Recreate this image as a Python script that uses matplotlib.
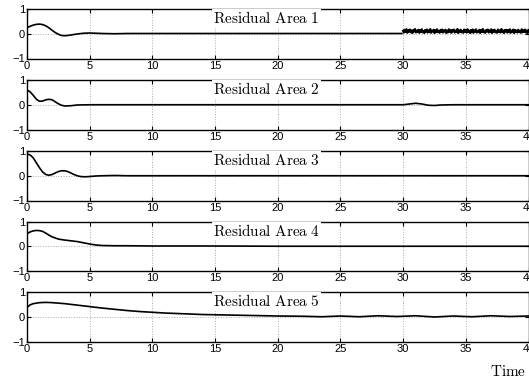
import matplotlib
matplotlib.use('Agg')
import matplotlib.pyplot as plt
import numpy as np

plt.rcParams['font.family'] = ['Liberation Sans', 'DejaVu Sans']
plt.rcParams['mathtext.fontset'] = 'cm'

# residual 1
t1 = [0, 0.25, 0.5, 0.75, 1.0, 1.25, 1.5, 1.75, 2.0, 2.25, 2.5, 2.75, 3.0, 3.25, 3.5,
      4.0, 4.5, 5.0, 5.5, 6, 7, 8, 10, 15, 20, 25, 29.9]
r1 = [0.25, 0.3, 0.35, 0.38, 0.39, 0.37, 0.32, 0.24, 0.14, 0.05, -0.02, -0.07, -0.08, -0.07, -0.05,
      -0.01, 0.02, 0.03, 0.02, 0.01, 0.0, 0.01, 0.01, 0.01, 0.01, 0.01, 0.01]
# noisy part of residual 1 (30..40)
r1_noise = [0.12, 0.05, 0.16, 0.08, 0.18, 0.04, 0.14, 0.09, 0.17, 0.06, 0.13, 0.03, 0.15, 0.10,
            0.19, 0.05, 0.12, 0.07, 0.16, 0.04, 0.14, 0.08, 0.18, 0.06, 0.11, 0.03, 0.15, 0.09,
            0.17, 0.05, 0.13, 0.07, 0.19, 0.04, 0.12, 0.10, 0.16, 0.03, 0.14, 0.06, 0.18, 0.08,
            0.11, 0.04, 0.15, 0.07, 0.17, 0.05, 0.13, 0.09, 0.16, 0.03, 0.12, 0.06, 0.18, 0.08,
            0.14, 0.04, 0.15, 0.10, 0.17, 0.05, 0.12, 0.07, 0.19, 0.03, 0.13, 0.08, 0.16, 0.06,
            0.11, 0.04, 0.17, 0.09, 0.14, 0.05, 0.18, 0.07, 0.12, 0.03, 0.15, 0.06, 0.17, 0.04,
            0.13, 0.09, 0.18, 0.05, 0.11, 0.07, 0.16, 0.03, 0.14, 0.08, 0.19, 0.06, 0.12, 0.04,
            0.15, 0.10, 0.17, 0.05, 0.13, 0.07, 0.18, 0.03, 0.14, 0.09, 0.16, 0.06, 0.11, 0.04,
            0.17, 0.08, 0.13, 0.05, 0.19, 0.07, 0.12, 0.03, 0.15, 0.09, 0.16, 0.05, 0.14, 0.06,
            0.18, 0.04, 0.12, 0.08, 0.17, 0.03, 0.15, 0.07, 0.13, 0.05, 0.16, 0.09, 0.11, 0.04,
            0.18, 0.06, 0.14, 0.08, 0.17, 0.05, 0.12, 0.03, 0.15]
t1_noise = np.linspace(30, 40, len(r1_noise))

# residual 2
t2 = [0, 0.1, 0.25, 0.5, 0.75, 1.0, 1.25, 1.5, 1.75, 2.0, 2.25, 2.5, 2.75, 3.0, 3.5, 4, 5, 6,
      10, 20, 30, 30.5, 31, 31.5, 32, 32.5, 33, 34, 40]
r2 = [0.55, 0.57, 0.52, 0.38, 0.22, 0.14, 0.15, 0.2, 0.22, 0.2, 0.12, 0.04, -0.02, -0.05, -0.04, -0.01, 0.0, 0.0,
      0.0, 0.0, 0.0, 0.03, 0.06, 0.03, -0.02, -0.03, -0.01, 0.0, 0.0]

# residual 3
t3 = [0, 0.25, 0.5, 0.75, 1.0, 1.25, 1.5, 1.75, 2.0, 2.25, 2.5, 2.75, 3.0, 3.25, 3.5, 3.75,
      4, 4.25, 4.5, 4.75, 5, 5.5, 6, 7, 8, 40]
r3 = [0.88, 0.84, 0.72, 0.52, 0.32, 0.15, 0.05, 0.02, 0.05, 0.11, 0.17, 0.2, 0.2, 0.17, 0.11, 0.05,
      0.0, -0.03, -0.04, -0.04, -0.03, -0.01, 0.0, 0.01, 0.0, 0.0]

# residual 4
t4 = [0, 0.25, 0.5, 0.75, 1.0, 1.25, 1.5, 1.75, 2.0, 2.5, 3.0, 3.5, 4.0, 4.5, 5.0, 5.5, 6, 7, 8,
      10, 15, 20, 25, 30, 35, 40]
r4 = [0.5, 0.58, 0.62, 0.64, 0.63, 0.6, 0.53, 0.45, 0.38, 0.29, 0.25, 0.22, 0.19, 0.14, 0.09, 0.05,
      0.03, 0.02, 0.02, 0.01, 0.01, 0.0, 0.0, 0.0, 0.0, 0.0]

# residual 5
t5 = [0, 0.25, 0.5, 1.0, 1.5, 2, 3, 4, 5, 6, 7, 8, 9, 10, 11, 12, 13, 14, 15, 16, 18, 20, 22,
      23.5, 25, 26.5, 28, 29.5, 31, 32.5, 34, 35.5, 37, 38.5, 40]
r5 = [0.38, 0.48, 0.53, 0.57, 0.58, 0.57, 0.53, 0.47, 0.41, 0.35, 0.3, 0.25, 0.21, 0.18, 0.15, 0.13,
      0.11, 0.09, 0.08, 0.07, 0.05, 0.03, 0.02, 0.0, 0.03, 0.0, 0.04, 0.01, 0.04, -0.01, 0.03, 0.0, 0.04, 0.01, 0.03]

series = [(t1, r1), (t2, r2), (t3, r3), (t4, r4), (t5, r5)]
titles = ['Residual Area 1', 'Residual Area 2', 'Residual Area 3', 'Residual Area 4', 'Residual Area 5']
xticks = [0, 5, 10, 15, 20, 25, 30, 35, 40]
yticks = [-1, 0, 1]

fig = plt.figure(figsize=(5.29, 3.81), dpi=100)
left, width, h = 27 / 529, 501.5 / 529, 49.5 / 381
tops = [9, 80, 151, 221.5, 292]

for i, (t, r) in enumerate(series):
    ax = fig.add_axes([left, 1 - (tops[i] + 49.5) / 381, width, h])
    ax.plot(t, r, c='k', lw=1.2)
    if i == 0:
        ax.plot(t1_noise, r1_noise, c='k', lw=1.6)
    ax.set_xlim(0, 40)
    ax.set_ylim(-1, 1)
    ax.set_xticks(xticks)
    ax.set_yticks(yticks)
    ax.grid(True, ls=':', c='#aaaaaa', lw=0.7)
    ax.tick_params(direction='in', length=3, width=0.8, top=True, right=True, labelsize=8, pad=1.5)
    for s in ax.spines.values():
        s.set_linewidth(1.0)
    ax.text(19.1, 0.62, r'$\mathrm{' + titles[i].replace(' ', r'\ ') + '}$', ha='center', va='center',
            fontsize=11, bbox=dict(fc='white', ec='none', pad=1))

fig.text(508 / 529, 1 - 372 / 381, r'$\mathrm{Time}$', ha='center', va='center', fontsize=11)

fig.savefig('out.png', dpi=100)
